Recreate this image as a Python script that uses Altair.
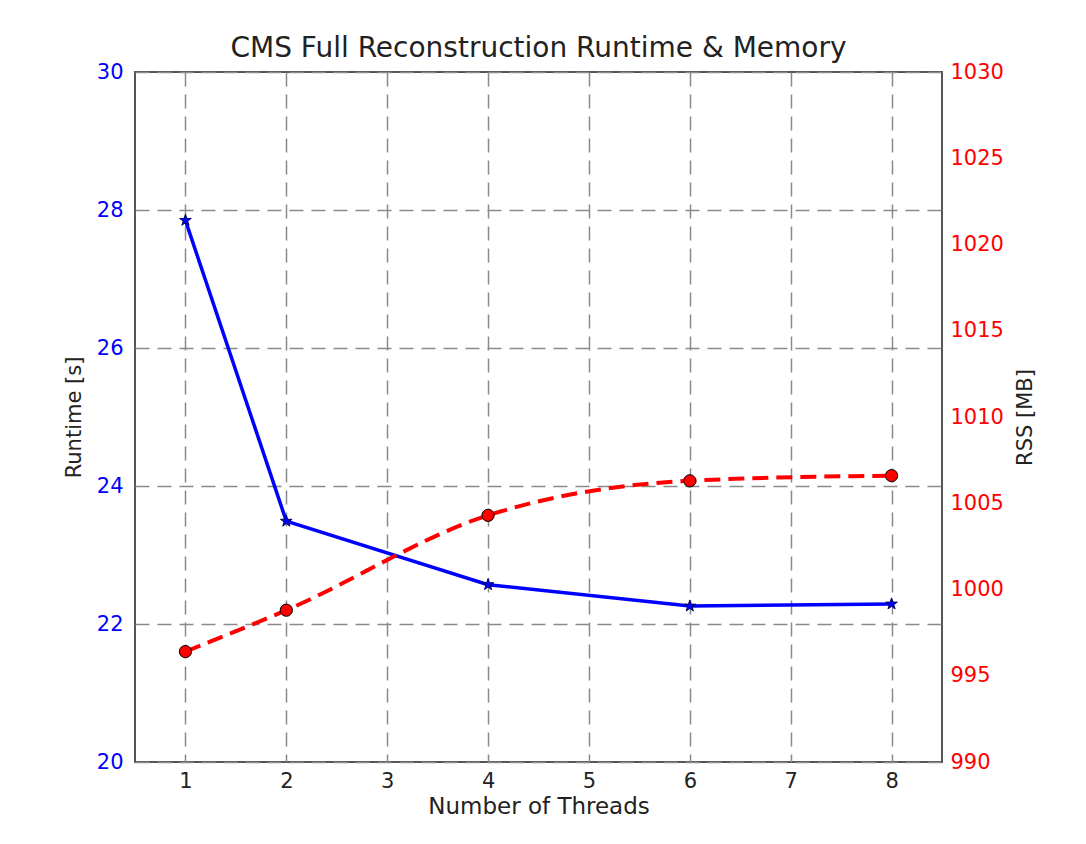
import altair as alt
import pandas as pd

threads = [1, 2, 4, 6, 8]
runtime_s = [27.85, 23.49, 22.57, 22.26, 22.29]
rss_mb = [996.4, 998.8, 1004.3, 1006.3, 1006.6]

x_ticks = [1, 2, 3, 4, 5, 6, 7, 8]
left_ticks = [20, 22, 24, 26, 28, 30]
right_ticks = [990, 995, 1000, 1005, 1010, 1015, 1020, 1025, 1030]

df = pd.DataFrame({"threads": threads, "runtime": runtime_s, "rss": rss_mb})

FONT = "DejaVu Sans"
STAR = ("M0,-1L0.223,-0.307L0.951,-0.309L0.361,0.117L0.588,0.809L0,0.38"
        "L-0.588,0.809L-0.361,0.117L-0.951,-0.309L-0.223,-0.307Z")

x_enc = alt.X(
    "threads:Q",
    scale=alt.Scale(domain=[0.5, 8.5], nice=False, zero=False),
    axis=alt.Axis(
        values=x_ticks, title="Number of Threads", format="d",
        grid=True, gridColor="#8a8a8a", gridDash=[14, 8], gridWidth=1.5,
        ticks=False, labelPadding=8, labelFontSize=21, labelColor="#222222",
        titleFontSize=23, titleFontWeight="normal", titleColor="#222222",
        titlePadding=4, domain=False, labelFont=FONT, titleFont=FONT,
    ),
)

y_left = alt.Y(
    "runtime:Q",
    scale=alt.Scale(domain=[20, 30], nice=False, zero=False),
    axis=alt.Axis(
        values=left_ticks, title="Runtime [s]", format="d",
        grid=True, gridColor="#8a8a8a", gridDash=[14, 8], gridWidth=1.5,
        ticks=False, labelPadding=12, labelFontSize=21, labelColor="#0000ff",
        titleFontSize=21, titleFontWeight="normal", titleColor="#222222",
        titlePadding=12, domain=False, labelFont=FONT, titleFont=FONT,
    ),
)

y_right = alt.Y(
    "rss:Q",
    scale=alt.Scale(domain=[990, 1030], nice=False, zero=False),
    axis=alt.Axis(
        orient="right", values=right_ticks, title="RSS [MB]", format="d",
        grid=False, ticks=False, labelPadding=8, labelFontSize=21,
        labelColor="#ff0000", titleFontSize=21, titleFontWeight="normal",
        titleColor="#222222", titlePadding=32, titleAngle=270,
        domain=False, labelFont=FONT, titleFont=FONT,
    ),
)

base = alt.Chart(df)

blue_line = base.mark_line(color="#0000ff", strokeWidth=3.5).encode(x=x_enc, y=y_left)
blue_pts = base.mark_point(
    shape=STAR, size=150, filled=True, fill="#0000ff", stroke="#000060",
    strokeWidth=1, opacity=1,
).encode(x=x_enc, y=y_left)

red_line = base.mark_line(
    color="#ff0000", strokeWidth=4, strokeDash=[16, 8], interpolate="monotone"
).encode(x=x_enc, y=y_right)
red_pts = base.mark_point(
    shape="circle", size=150, filled=True, fill="#ff0000", stroke="#000000",
    strokeWidth=1, opacity=1,
).encode(x=x_enc, y=y_right)

left = alt.layer(blue_line, blue_pts)
right = alt.layer(red_line, red_pts)

chart = (
    alt.layer(left, right)
    .resolve_scale(y="independent")
    .properties(
        width=807,
        height=690,
        title=alt.TitleParams(
            "CMS Full Reconstruction Runtime & Memory",
            font=FONT, fontSize=28, fontWeight="normal", color="#222222",
            anchor="middle", offset=-2,
        ),
        autosize=alt.AutoSizeParams(type="none"),
        padding={"left": 135, "top": 72, "right": 144, "bottom": 82},
    )
    .configure(background="white")
    .configure_view(stroke="#555555", strokeWidth=2)
)

chart.save("out.html", embed_options={"renderer": "svg", "actions": False})
